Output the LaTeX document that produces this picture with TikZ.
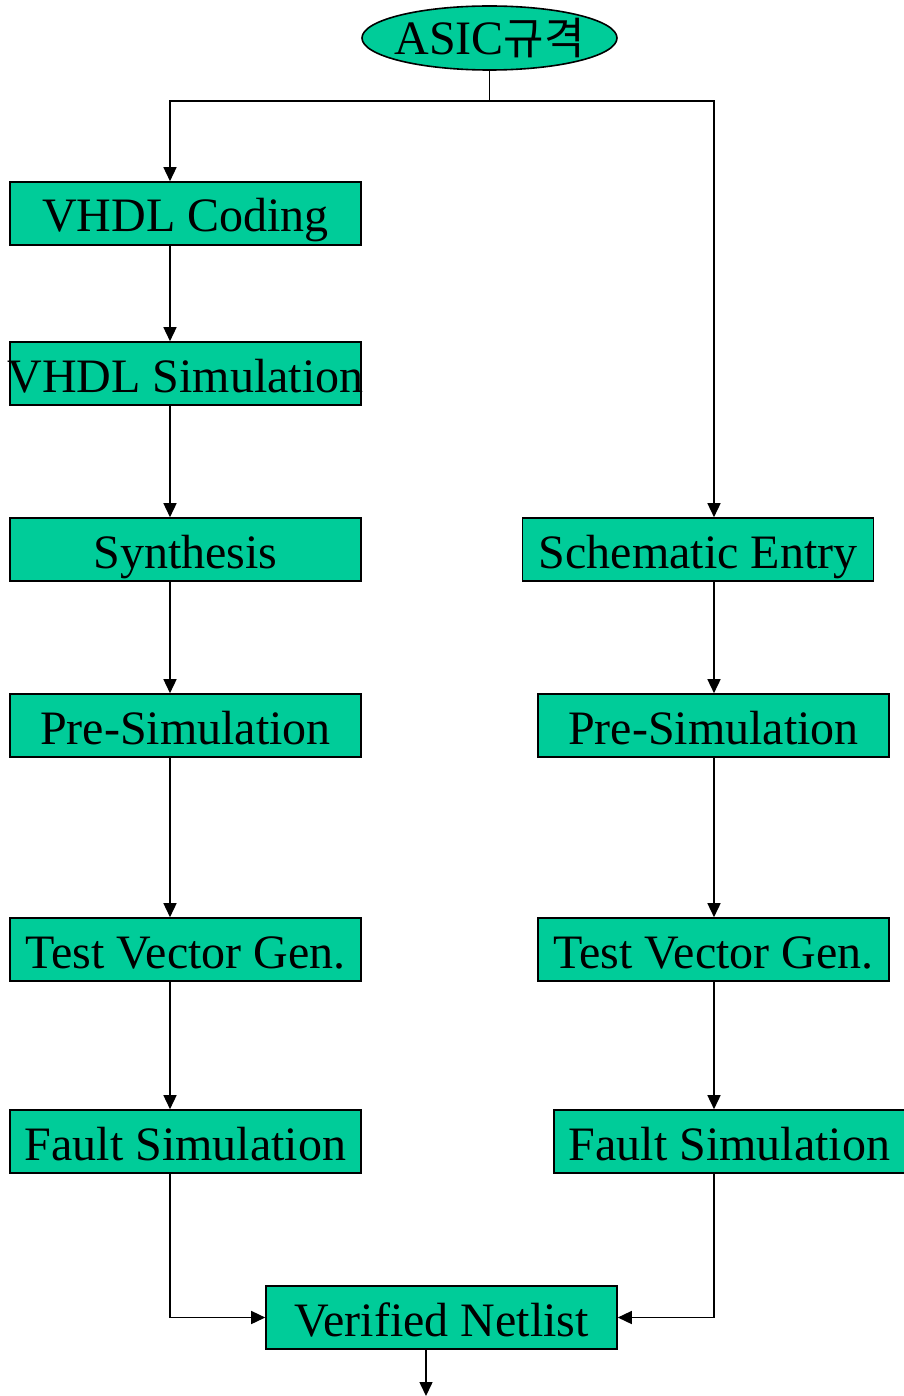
\documentclass[tikz,border=0pt]{standalone}
\usepackage{fontspec}
\setmainfont{Liberation Serif}
\newfontfamily\krfont{Noto Sans CJK KR}
\usetikzlibrary{shapes.geometric,arrows.meta}
\definecolor{boxgreen}{HTML}{00CC99}
\begin{document}
\begin{tikzpicture}[x=1pt,y=-1pt,
  stepbox/.style={draw=black,line width=1.6pt,fill=boxgreen,rectangle,
    minimum width=351pt,minimum height=63pt,inner xsep=0pt,inner ysep=0pt,
    text height=37pt,text depth=0pt,
    font=\fontsize{48}{56}\selectfont},
  conn/.style={line width=1.5pt,-{Triangle[width=13pt,length=14pt]}},
  plainconn/.style={line width=1.5pt}]
\useasboundingbox (0,0) rectangle (903,1396);
\node[draw=black,line width=1.6pt,fill=boxgreen,ellipse,minimum width=255pt,
  minimum height=64pt,inner sep=0pt,text height=34pt,text depth=0pt,
  font=\fontsize{48}{56}\selectfont] (asic) at (489.5,38) {\makebox[0pt]{ASIC{\krfont\fontsize{44}{48}\selectfont 규격}}};
\node[stepbox] (vc) at (185.5,213.5) {VHDL Coding};
\node[stepbox] (vs) at (185.5,373.5) {\makebox[0pt]{VHDL Simulation}};
\node[stepbox] (syn) at (185.5,549.5) {Synthesis};
\node[stepbox] (ps1) at (185.5,725.5) {Pre-Simulation};
\node[stepbox] (tv1) at (185.5,949.5) {Test Vector Gen.};
\node[stepbox] (fs1) at (185.5,1141.5) {Fault Simulation};
\node[stepbox] (se) at (698,549.5) {Schematic Entry};
\node[stepbox] (ps2) at (713.5,725.5) {Pre-Simulation};
\node[stepbox] (tv2) at (713.5,949.5) {Test Vector Gen.};
\node[stepbox] (fs2) at (729.5,1141.5) {Fault Simulation};
\node[stepbox] (vn) at (441.5,1317.5) {Verified Netlist};
\coordinate (split) at (489.5,101);
\coordinate (lx) at (170,0);
\coordinate (rx) at (714,0);
\coordinate (out) at (426,1396);
\draw[plainconn] (asic.south) -- (split);
\draw[conn] (split) -| (lx |- vc.north);
\draw[conn] (split) -| (rx |- se.north);
\draw[conn] (lx |- vc.south) -- (lx |- vs.north);
\draw[conn] (lx |- vs.south) -- (lx |- syn.north);
\draw[conn] (lx |- syn.south) -- (lx |- ps1.north);
\draw[conn] (lx |- ps1.south) -- (lx |- tv1.north);
\draw[conn] (lx |- tv1.south) -- (lx |- fs1.north);
\draw[conn] (rx |- se.south) -- (rx |- ps2.north);
\draw[conn] (rx |- ps2.south) -- (rx |- tv2.north);
\draw[conn] (rx |- tv2.south) -- (rx |- fs2.north);
\draw[conn] (lx |- fs1.south) |- (vn.west);
\draw[conn] (rx |- fs2.south) |- (vn.east);
\draw[conn] (vn.south -| out) -- (out);
\end{tikzpicture}
\end{document}
